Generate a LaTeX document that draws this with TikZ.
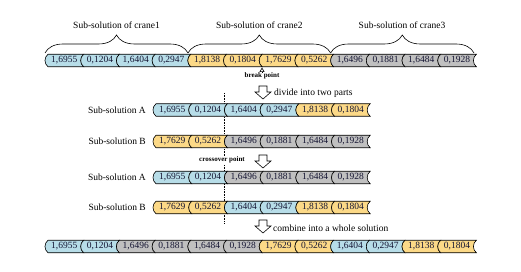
\documentclass[tikz,border=0pt]{standalone}
\usepackage{fontspec}
\setmainfont{Liberation Serif}
\usetikzlibrary{decorations.pathreplacing,arrows.meta}
\definecolor{cb}{RGB}{183,221,232}
\definecolor{cy}{RGB}{252,217,135}
\definecolor{cg}{RGB}{192,192,192}
\definecolor{numc}{RGB}{20,20,50}
\tikzset{
  cellstyle/.style={draw=black, line width=0.6pt},
  celltext/.style={font=\fontsize{9.5}{11}\selectfont, text=numc, inner sep=0pt},
  lbl/.style={font=\fontsize{9.5}{11}\selectfont, inner sep=0pt},
  small/.style={font=\bfseries\fontsize{7}{8}\selectfont, inner sep=1pt},
  bracestyle/.style={decorate, decoration={brace, amplitude=18pt}, line width=0.6pt},
  hollow/.style={draw=black, fill=white, line width=0.6pt, line join=miter}
}
\newcommand\cellbox[5]{%
  \pgfmathsetmacro\xa{#2}\pgfmathsetmacro\xb{#2+35.7}%
  \pgfmathsetmacro\yt{#3-6.25}\pgfmathsetmacro\yb{#3+6.25}%
  \draw[cellstyle, fill=#4] (\xa+3,\yt) -- (\xb+3,\yt) .. controls (\xb-1,\yt+3) and (\xb-1,\yb-3) .. (\xb+3,\yb) -- (\xa+3,\yb) .. controls (\xa-1,\yb-3) and (\xa-1,\yt+3) .. (\xa+3,\yt) -- cycle;
  \node[celltext] (#1) at (\xa+19.3,#3) {#5};
}
\newcommand\cellrow[4]{%
  \foreach \c/\t [count=\i] in {#4} {\cellbox{#1\i}{#2+(\i-1)*35.7}{#3}{\c}{\t}}%
}
\newcommand\hollowarrow[3]{%
  \coordinate (#1) at (#2,#3);
  \draw[hollow] ([shift={(-4,0)}]#1) -- ([shift={(4,0)}]#1) -- ([shift={(4,6)}]#1) -- ([shift={(8,6)}]#1) -- ([shift={(0,13)}]#1) -- ([shift={(-8,6)}]#1) -- ([shift={(-4,6)}]#1) -- cycle;
}
\begin{document}
\begin{tikzpicture}[x=1pt,y=-1pt]
\useasboundingbox (0,0) rectangle (521,272);
% dotted crossover line
\coordinate (dtop) at (224.4,93);
\coordinate (dbot) at (224.4,224);
\draw[densely dotted, line width=0.6pt] (dtop) -- (dbot);
% top row
\cellrow{t}{45}{60.5}{cb/{1,6955},cb/{0,1204},cb/{1,6404},cb/{0,2947},cy/{1,8138},cy/{0,1804},cy/{1,7629},cy/{0,5262},cg/{1,6496},cg/{0,1881},cg/{1,6484},cg/{0,1928}}
% braces
\coordinate (b1a) at (45,53);\coordinate (b1b) at (188,53);
\coordinate (b2a) at (188,53);\coordinate (b2b) at (330.6,53);
\coordinate (b3a) at (330.6,53);\coordinate (b3b) at (474,53);
\draw[bracestyle] (b1a) -- (b1b);
\draw[bracestyle] (b2a) -- (b2b);
\draw[bracestyle] (b3a) -- (b3b);
\node[lbl] (l1) at (116.5,25) {Sub-solution of crane1};
\node[lbl] (l2) at (259.3,25) {Sub-solution of crane2};
\node[lbl] (l3) at (402,25) {Sub-solution of crane3};
% break point
\node[small] (bp) at (262,76) {break point};
\draw[-{Triangle[open,length=4.5pt,width=5pt]}, line width=0.6pt] (bp.north) -- (262,67.5);
% arrows and captions
\hollowarrow{a1}{263}{86}
\node[lbl, anchor=west] (cap1) at (274,93) {divide into two parts};
\hollowarrow{a2}{263}{155}
\hollowarrow{a3}{263}{220}
\node[lbl, anchor=west] (cap3) at (273,228) {combine into a whole solution};
% rows
\node[lbl, anchor=east] (ra) at (146,110) {Sub-solution A};
\cellrow{a}{153}{110}{cb/{1,6955},cb/{0,1204},cb/{1,6404},cb/{0,2947},cy/{1,8138},cy/{0,1804}}
\node[lbl, anchor=east] (rb) at (146,141.5) {Sub-solution B};
\cellrow{b}{153}{141.5}{cy/{1,7629},cy/{0,5262},cg/{1,6496},cg/{0,1881},cg/{1,6484},cg/{0,1928}}
\node[small, fill=white, inner sep=0.5pt] (cp) at (222,160) {crossover point};
\node[lbl, anchor=east] (rc) at (146,177.5) {Sub-solution A};
\cellrow{c}{153}{177.5}{cb/{1,6955},cb/{0,1204},cg/{1,6496},cg/{0,1881},cg/{1,6484},cg/{0,1928}}
\node[lbl, anchor=east] (rd) at (146,207.5) {Sub-solution B};
\cellrow{d}{153}{207.5}{cy/{1,7629},cy/{0,5262},cb/{1,6404},cb/{0,2947},cy/{1,8138},cy/{0,1804}}
% final row
\cellrow{f}{45}{246.5}{cb/{1,6955},cb/{0,1204},cg/{1,6496},cg/{0,1881},cg/{1,6484},cg/{0,1928},cy/{1,7629},cy/{0,5262},cb/{1,6404},cb/{0,2947},cy/{1,8138},cy/{0,1804}}
\end{tikzpicture}
\end{document}
